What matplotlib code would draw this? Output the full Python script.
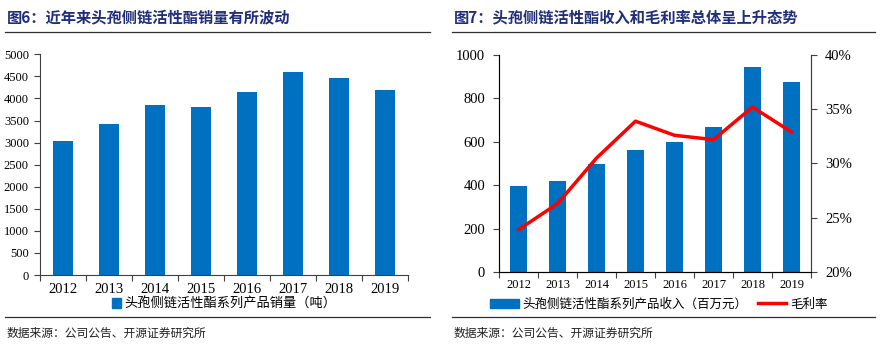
import matplotlib.pyplot as plt
import numpy as np
from matplotlib.lines import Line2D
from matplotlib.patches import Patch
from matplotlib.transforms import offset_copy

plt.rcParams['font.family'] = ['Liberation Serif', 'Noto Sans CJK SC']

years = ['2012', '2013', '2014', '2015', '2016', '2017', '2018', '2019']
sales = [3030, 3420, 3860, 3800, 4150, 4610, 4460, 4200]
revenue = [395, 420, 497, 560, 597, 670, 945, 877]
margin = [23.9, 26.3, 30.5, 33.9, 32.6, 32.2, 35.2, 32.9]

title_left = '图6：近年来头孢侧链活性酯销量有所波动'
title_right = '图7：头孢侧链活性酯收入和毛利率总体呈上升态势'
source = '数据来源：公司公告、开源证券研究所'
sales_label = '头孢侧链活性酯系列产品销量（吨）'
rev_label = '头孢侧链活性酯系列产品收入（百万元）'
margin_label = '毛利率'

W, H = 888, 348
BLUE = '#0070C0'
NAVY = '#1F2D7B'
CJK = ['Noto Sans CJK SC', 'DejaVu Sans']

fig = plt.figure(figsize=(W / 100, H / 100), dpi=100)


def px_axes(x0, y0, x1, y1):
    # pixel box (top-left origin) -> figure axes
    return fig.add_axes([x0 / W, 1 - y1 / H, (x1 - x0) / W, (y1 - y0) / H])


def style_cat_axis(ax, n, size, gap):
    ax.set_xlim(-0.5, n - 0.5)
    ax.set_xticks(np.arange(n + 1) - 0.5)
    ax.set_xticklabels([])
    ax.tick_params(axis='x', length=4, direction='out', color='#404040')
    tr = offset_copy(ax.get_xaxis_transform(), fig=fig, x=0, y=-gap, units='dots')
    for i, yr in enumerate(years):
        ax.text(i, 0, yr, transform=tr, ha='center', va='top', fontsize=size)


x = np.arange(len(years))

# left chart
ax1 = px_axes(40, 54.3, 408, 275)
ax1.bar(x, sales, width=0.45, color=BLUE, zorder=2)
ax1.set_ylim(0, 5000)
ax1.set_yticks(np.arange(0, 5001, 500))
ax1.tick_params(axis='y', length=4, direction='out', labelsize=9, color='#404040', pad=4)
style_cat_axis(ax1, len(years), 10.5, 8)
for s in ['top', 'right']:
    ax1.spines[s].set_visible(False)
for s in ['left', 'bottom']:
    ax1.spines[s].set_color('#404040')
    ax1.spines[s].set_linewidth(0.8)
fig.legend(handles=[Patch(color=BLUE)], labels=[sales_label], loc='center left',
           bbox_to_anchor=(112 / W, 1 - 304 / H),
           frameon=False, prop={'family': CJK, 'size': 9.5}, handlelength=0.7,
           handleheight=0.7, handletextpad=0.2, borderaxespad=0, borderpad=0)

# right chart
ax2 = px_axes(499, 55, 811, 272)
ax2.bar(x, revenue, width=0.43, color=BLUE, zorder=2)
ax2.set_ylim(0, 1000)
ax2.set_yticks(np.arange(0, 1001, 200))
ax2.tick_params(axis='y', length=4, direction='out', labelsize=10.5, color='#404040', pad=6)
style_cat_axis(ax2, len(years), 9, 7)
ax2.spines['top'].set_visible(False)
for s in ['left', 'bottom', 'right']:
    ax2.spines[s].set_color('#404040')
    ax2.spines[s].set_linewidth(0.8)

ax3 = ax2.twinx()
ax3.plot(x, margin, color='#FF0000', lw=2.5, zorder=3)
ax3.set_ylim(20, 40)
ax3.set_yticks(np.arange(20, 41, 5))
ax3.set_yticklabels([f'{v}%' for v in range(20, 41, 5)])
ax3.tick_params(axis='y', length=4, direction='out', labelsize=10.5, color='#404040', pad=6)
ax3.spines['top'].set_visible(False)
ax3.spines['right'].set_color('#404040')
ax3.spines['right'].set_linewidth(0.8)

fig.legend(handles=[Patch(color=BLUE), Line2D([], [], color='#FF0000', lw=2.5)],
           labels=[rev_label, margin_label], loc='center left',
           bbox_to_anchor=(490 / W, 1 - 304 / H), frameon=False, ncol=2,
           prop={'family': CJK, 'size': 9}, handlelength=2.3, handleheight=0.7,
           handletextpad=0.3, columnspacing=0.8, borderaxespad=0, borderpad=0)

# titles, rules, source
for x0, x1, title in [(5, 430, title_left), (452, 875, title_right)]:
    fig.text((x0 + 2) / W, 1 - 17 / H, title, family=CJK, fontsize=11,
             fontweight='bold', color=NAVY, va='center')
    for yy in (32, 317):
        fig.add_artist(Line2D([x0 / W, x1 / W], [1 - yy / H] * 2, color='#303030', lw=0.9))
    fig.text((x0 + 2) / W, 1 - 333 / H, source, family=CJK, fontsize=8.5,
             color='#202020', va='center')

fig.savefig('out.png', dpi=100)
